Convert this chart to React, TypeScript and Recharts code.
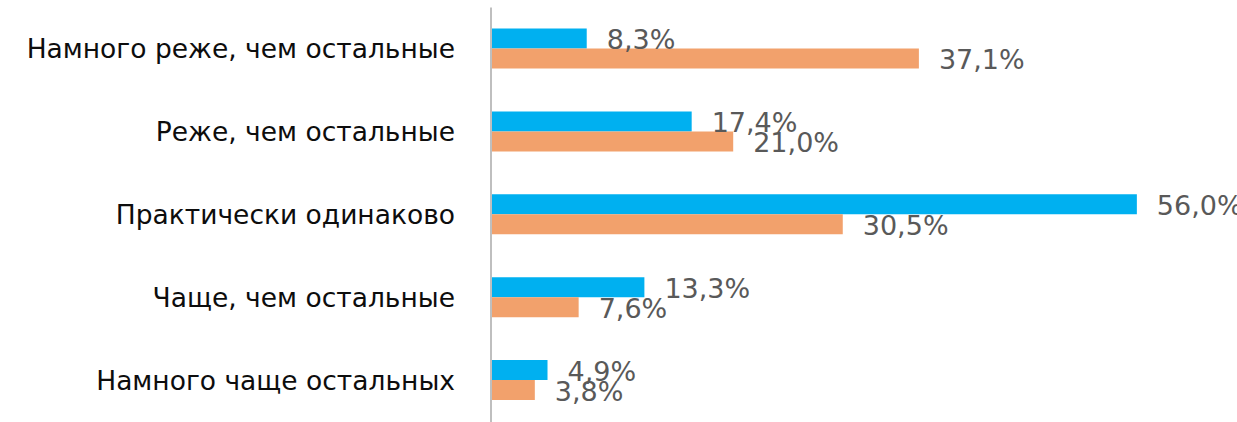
import React from 'react';
import { BarChart, Bar, XAxis, YAxis, LabelList } from 'recharts';

const categories = [
  'Намного реже, чем остальные',
  'Реже, чем остальные',
  'Практически одинаково',
  'Чаще, чем остальные',
  'Намного чаще остальных',
];
const seriesBlue = [8.3, 17.4, 56.0, 13.3, 4.9];
const seriesOrange = [37.1, 21.0, 30.5, 7.6, 3.8];

const data = categories.map((c, i) => ({ name: c, blue: seriesBlue[i], orange: seriesOrange[i] }));

const fmt = (v: number) => v.toFixed(1).replace('.', ',') + '%';

const ValueLabel = (props: any) => {
  const { x, y, width, height, value } = props;
  return (
    <text
      x={x + width + 20}
      y={y + height / 2 + 1}
      textAnchor="start"
      dominantBaseline="central"
      fill="#595959"
      fontSize={27}
      fontFamily="'DejaVu Sans', sans-serif"
    >
      {fmt(value)}
    </text>
  );
};

export default function App() {
  return (
    <div style={{ position: 'absolute', left: 0, top: 0, width: 1237, height: 422, background: '#fff', overflow: 'hidden' }}>
      <BarChart
        width={1237}
        height={422}
        data={data}
        layout="vertical"
        margin={{ top: 7.5, right: 54, bottom: 0, left: 0 }}
        barGap={0}
        barCategoryGap={21.5}
        style={{ overflow: 'visible' }}
      >
        <XAxis type="number" domain={[0, 60]} hide />
        <YAxis
          type="category"
          dataKey="name"
          width={491}
          tickLine={false}
          tickSize={0}
          tickMargin={36}
          axisLine={{ stroke: '#BFBFBF', strokeWidth: 2 }}
          tick={{ fill: '#0d0d0d', fontSize: 26.5, fontFamily: "'DejaVu Sans', sans-serif" }}
          interval={0}
        />
        <Bar dataKey="blue" fill="#00B0F0" barSize={20} isAnimationActive={false}>
          <LabelList dataKey="blue" content={ValueLabel} />
        </Bar>
        <Bar dataKey="orange" fill="#F2A16C" barSize={20} isAnimationActive={false}>
          <LabelList dataKey="orange" content={ValueLabel} />
        </Bar>
      </BarChart>
    </div>
  );
}
